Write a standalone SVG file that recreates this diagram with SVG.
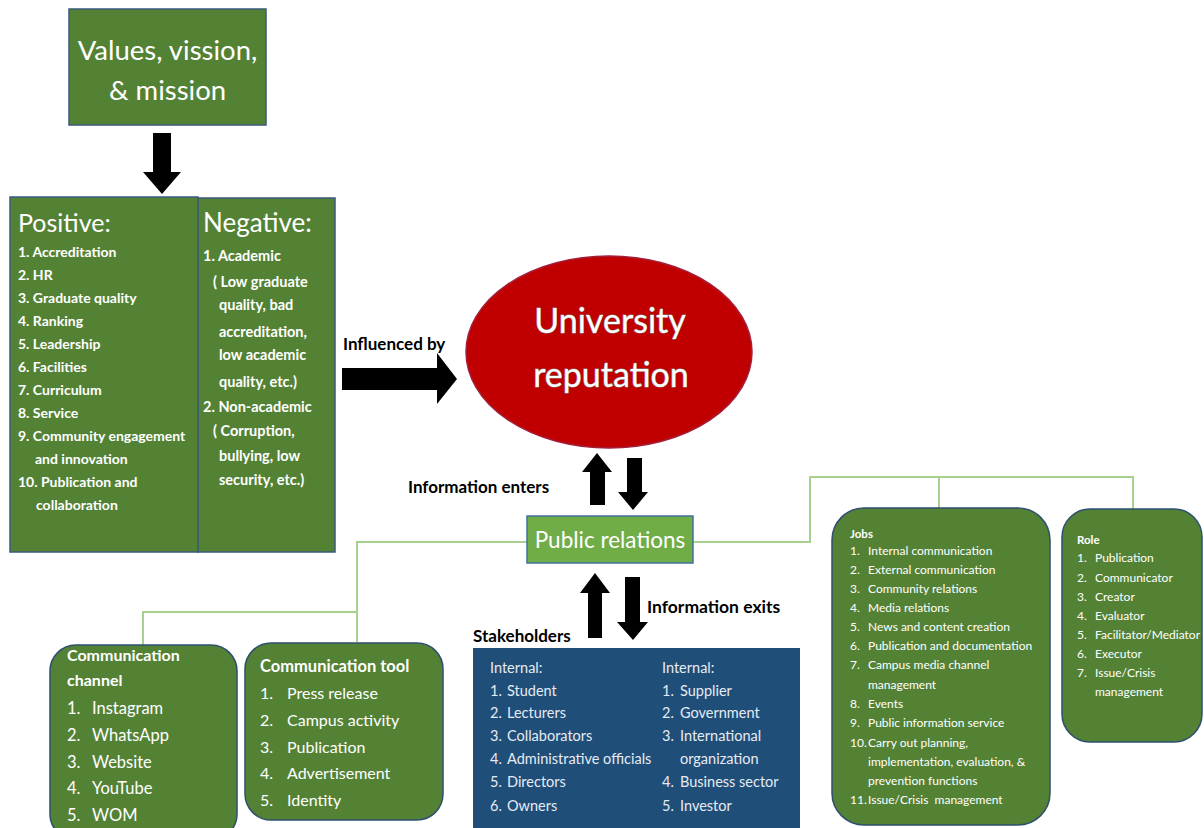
<svg xmlns="http://www.w3.org/2000/svg" width="1204" height="828" viewBox="0 0 1204 828">
<style>
text{font-family:Lato,"Open Sans","Liberation Sans",sans-serif;}
.box{fill:#548235;stroke:#3b5a7e;stroke-width:1.5;}
.rbox{fill:#548235;stroke:#2f4f6e;stroke-width:1.5;}
.w{fill:#ffffff;}
.b{font-weight:bold;}
.lbl{font-weight:bold;fill:#000;}
.conn{fill:none;stroke:#a9d18e;stroke-width:2;}
.arr{fill:#000;}
</style>
<rect width="1204" height="828" fill="#ffffff"/>

<g id="connectors">
  <polyline class="conn" points="527,542 357,542 357,642"/>
  <polyline class="conn" points="357,612 143,612 143,646"/>
  <polyline class="conn" points="693,542 810,542 810,477 1133,477 1133,511"/>
  <line class="conn" x1="939" y1="477" x2="939" y2="510"/>
  <polygon class="arr" points="153,133 171,133 171,172 181,172 162,194 143,172 153,172"/>
  <polygon class="arr" points="342,368 437,368 437,353 457,379 437,404 437,390 342,390"/>
  <polygon class="arr" points="590,505 605,505 605,472 612,472 597,453 582,472 590,472"/>
  <polygon class="arr" points="627,458 642,458 642,492 648,492 633,510 618,492 627,492"/>
  <polygon class="arr" points="588,638 602,638 602,593 610,593 595,573 580,593 588,593"/>
  <polygon class="arr" points="625,577 640,577 640,622 648,622 633,640 617,622 625,622"/>
  <text class="lbl" x="343" y="350" font-size="17">Influenced by</text>
  <text class="lbl" x="408" y="493" font-size="17">Information enters</text>
  <text class="lbl" x="647" y="613" font-size="17.5">Information exits</text>
</g>

<g id="values">
  <rect class="box" x="69" y="9" width="197" height="116"/>
  <text class="w" x="167.5" y="60" font-size="27.5" text-anchor="middle">Values, vission,</text>
  <text class="w" x="167.5" y="100" font-size="27.5" text-anchor="middle">&amp; mission</text>
</g>

<g id="positive">
  <rect class="box" x="10" y="197" width="188" height="355"/>
  <text class="w" x="18" y="232" font-size="25">Positive:</text>
  <g class="w b" font-size="14">
    <text x="18" y="257">1. Accreditation</text>
    <text x="18" y="280">2. HR</text>
    <text x="18" y="303">3. Graduate quality</text>
    <text x="18" y="326">4. Ranking</text>
    <text x="18" y="349">5. Leadership</text>
    <text x="18" y="372">6. Facilities</text>
    <text x="18" y="395">7. Curriculum</text>
    <text x="18" y="418">8. Service</text>
    <text x="18" y="441">9. Community engagement</text>
    <text x="35" y="464">and innovation</text>
    <text x="18" y="487">10. Publication and</text>
    <text x="36" y="510">collaboration</text>
  </g>
</g>

<g id="negative">
  <rect class="box" x="198" y="198" width="137" height="354"/>
  <text class="w" x="203" y="232" font-size="26">Negative:</text>
  <g class="w b" font-size="14.5">
    <text x="203" y="261">1. Academic</text>
    <text x="213" y="287">( Low graduate</text>
    <text x="219" y="310">quality, bad</text>
    <text x="219" y="337">accreditation,</text>
    <text x="219" y="360">low academic</text>
    <text x="219" y="387">quality, etc.)</text>
    <text x="203" y="412">2. Non-academic</text>
    <text x="213" y="436">( Corruption,</text>
    <text x="219" y="461">bullying, low</text>
    <text x="219" y="485">security, etc.)</text>
  </g>
</g>

<g id="reputation">
  <ellipse cx="609" cy="352" rx="143" ry="96" fill="#c00000" stroke="#a3203c" stroke-width="1.5"/>
  <text class="w" x="610" y="333" font-size="34" text-anchor="middle" stroke="#8a8a8a" stroke-width="1" paint-order="stroke">University</text>
  <text class="w" x="611" y="387" font-size="34" text-anchor="middle" stroke="#8a8a8a" stroke-width="1" paint-order="stroke">reputation</text>
</g>

<g id="public-relations">
  <rect x="527" y="516" width="166" height="47" fill="#70ad47" stroke="#41719c" stroke-width="1.5"/>
  <text class="w" x="610" y="548" font-size="22.5" text-anchor="middle">Public relations</text>
</g>

<g id="communication-channel">
  <rect class="rbox" x="50" y="645" width="187" height="195" rx="26"/>
  <text class="w b" x="67" y="661" font-size="16">Communication</text>
  <text class="w b" x="67" y="686" font-size="16">channel</text>
  <g class="w" font-size="16.5">
    <text x="67" y="714">1.</text><text x="92" y="714">Instagram</text>
    <text x="67" y="741">2.</text><text x="92" y="741">WhatsApp</text>
    <text x="67" y="768">3.</text><text x="92" y="768">Website</text>
    <text x="67" y="794">4.</text><text x="92" y="794">YouTube</text>
    <text x="67" y="821">5.</text><text x="92" y="821">WOM</text>
  </g>
</g>

<g id="communication-tool">
  <rect class="rbox" x="245" y="643" width="198" height="177" rx="26"/>
  <text class="w b" x="260" y="672" font-size="16.5">Communication tool</text>
  <g class="w" font-size="16">
    <text x="260" y="699">1.</text><text x="287" y="699">Press release</text>
    <text x="260" y="726">2.</text><text x="287" y="726">Campus activity</text>
    <text x="260" y="753">3.</text><text x="287" y="753">Publication</text>
    <text x="260" y="779">4.</text><text x="287" y="779">Advertisement</text>
    <text x="260" y="806">5.</text><text x="287" y="806">Identity</text>
  </g>
</g>

<g id="stakeholders">
  <text class="lbl" x="473" y="642" font-size="17">Stakeholders</text>
  <rect x="473" y="648" width="327" height="185" fill="#1f4e79"/>
  <g fill="#e6ebf3" font-size="14.5">
    <text x="490" y="673">Internal:</text>
    <text x="490" y="696">1.</text><text x="507" y="696">Student</text>
    <text x="490" y="718">2.</text><text x="507" y="718">Lecturers</text>
    <text x="490" y="741">3.</text><text x="507" y="741">Collaborators</text>
    <text x="490" y="764">4.</text><text x="507" y="764">Administrative officials</text>
    <text x="490" y="787">5.</text><text x="507" y="787">Directors</text>
    <text x="490" y="811">6.</text><text x="507" y="811">Owners</text>
    <text x="662" y="673">Internal:</text>
    <text x="662" y="696">1.</text><text x="680" y="696">Supplier</text>
    <text x="662" y="718">2.</text><text x="680" y="718">Government</text>
    <text x="662" y="741">3.</text><text x="680" y="741">International</text>
    <text x="680" y="764">organization</text>
    <text x="662" y="787">4.</text><text x="680" y="787">Business sector</text>
    <text x="662" y="811">5.</text><text x="680" y="811">Investor</text>
  </g>
</g>

<g id="jobs">
  <rect class="rbox" x="832" y="508" width="218" height="317" rx="32"/>
  <text class="w b" x="850" y="538" font-size="11.5">Jobs</text>
  <g class="w" font-size="12">
    <text x="850" y="555">1.</text><text x="868" y="555">Internal communication</text>
    <text x="850" y="574">2.</text><text x="868" y="574">External communication</text>
    <text x="850" y="593">3.</text><text x="868" y="593">Community relations</text>
    <text x="850" y="612">4.</text><text x="868" y="612">Media relations</text>
    <text x="850" y="631">5.</text><text x="868" y="631">News and content creation</text>
    <text x="850" y="650">6.</text><text x="868" y="650">Publication and documentation</text>
    <text x="850" y="669">7.</text><text x="868" y="669">Campus media channel</text>
    <text x="868" y="689">management</text>
    <text x="850" y="708">8.</text><text x="868" y="708">Events</text>
    <text x="850" y="727">9.</text><text x="868" y="727">Public information service</text>
    <text x="850" y="747">10.</text><text x="868" y="747">Carry out planning,</text>
    <text x="868" y="766">implementation, evaluation, &amp;</text>
    <text x="868" y="785">prevention functions</text>
    <text x="850" y="804">11.</text><text x="868" y="804" xml:space="preserve">Issue/Crisis  management</text>
  </g>
</g>

<g id="role">
  <rect class="rbox" x="1062" y="509" width="140" height="233" rx="28"/>
  <text class="w b" x="1077" y="544" font-size="11.5">Role</text>
  <g class="w" font-size="12">
    <text x="1077" y="562">1.</text><text x="1095" y="562">Publication</text>
    <text x="1077" y="582">2.</text><text x="1095" y="582">Communicator</text>
    <text x="1077" y="601">3.</text><text x="1095" y="601">Creator</text>
    <text x="1077" y="620">4.</text><text x="1095" y="620">Evaluator</text>
    <text x="1077" y="639">5.</text><text x="1095" y="639">Facilitator/Mediator</text>
    <text x="1077" y="658">6.</text><text x="1095" y="658">Executor</text>
    <text x="1077" y="677">7.</text><text x="1095" y="677">Issue/Crisis</text>
    <text x="1095" y="696">management</text>
  </g>
</g>
</svg>
